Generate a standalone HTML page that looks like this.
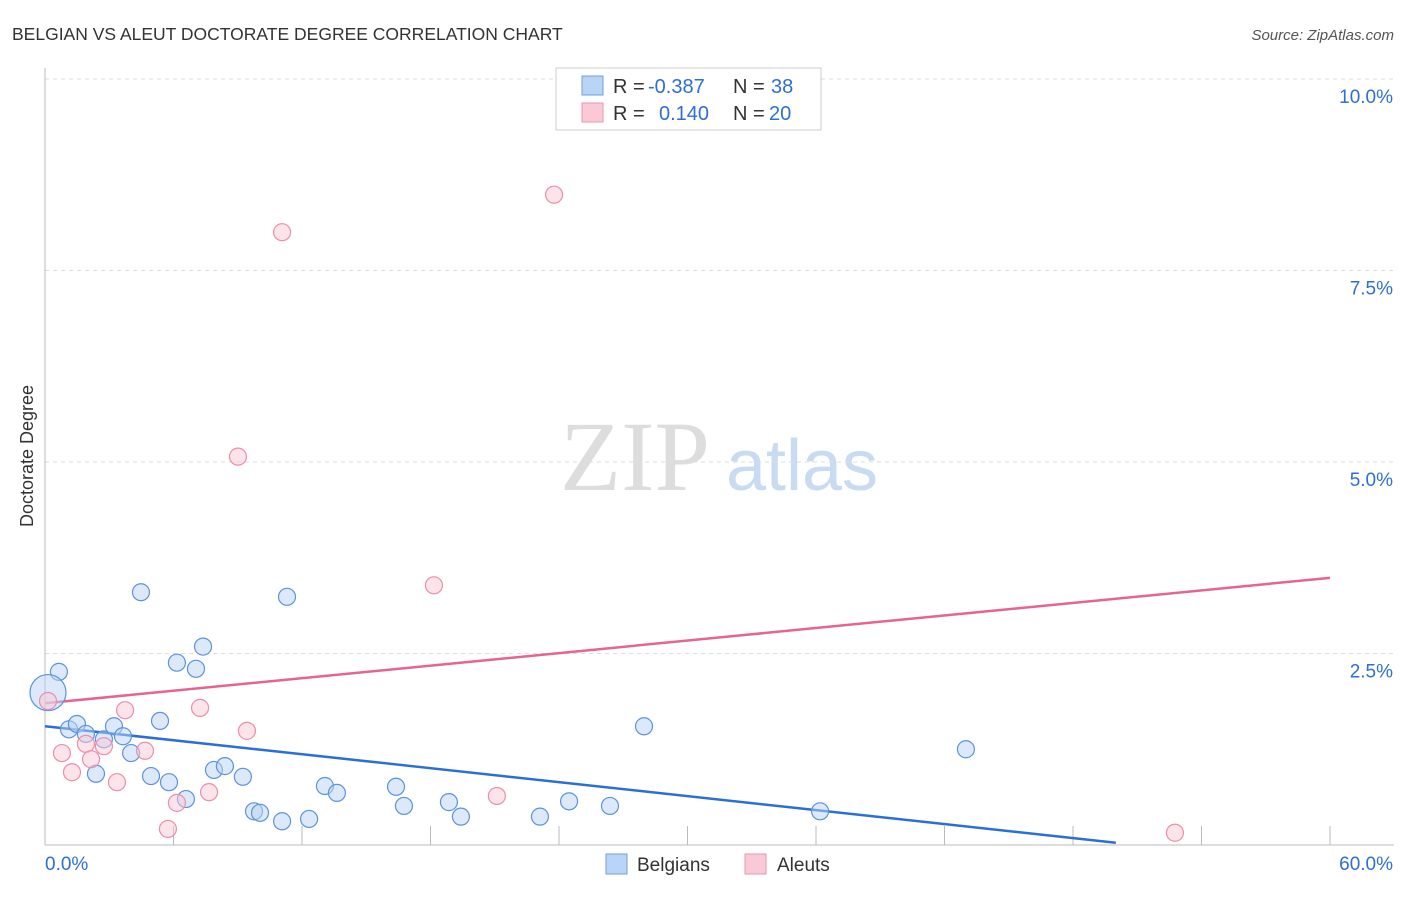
<!DOCTYPE html>
<html><head><meta charset="utf-8"><style>
body{margin:0;background:#fff;font-family:"Liberation Sans",sans-serif;}
</style></head><body>
<svg id="chart" width="1406" height="892" style="font-family:'Liberation Sans',sans-serif">
<text x="12" y="40" font-size="17.5" fill="#333">BELGIAN VS ALEUT DOCTORATE DEGREE CORRELATION CHART</text>
<text x="1394" y="40" font-size="15" fill="#555" font-style="italic" text-anchor="end">Source: ZipAtlas.com</text>
<text x="33" y="456" font-size="18" fill="#333" text-anchor="middle" transform="rotate(-90 33 456)">Doctorate Degree</text>
<g><text x="635" y="490" font-size="100" fill="#ddd" style="font-family:'Liberation Serif',serif" text-anchor="middle">ZIP</text><text x="802" y="490" font-size="72" fill="#c9dbf2" text-anchor="middle">atlas</text></g>
<g id="grid"></g><g id="axes"></g><g id="lines"></g><g id="pts"></g>
<g>
<rect x="556" y="68" width="265" height="62" fill="#fff" stroke="#ccc"/>
<rect x="582" y="76" width="21" height="19" fill="#b9d4f5" stroke="#6fa0e0"/>
<rect x="582" y="103" width="21" height="19" fill="#f9c9d6" stroke="#eb94ad"/>
<text x="613" y="93" font-size="20" fill="#333">R =</text>
<text x="648" y="93" font-size="20" fill="#2e6fd4">-0.387</text>
<text x="733" y="93" font-size="20" fill="#333">N =</text>
<text x="771" y="93" font-size="20" fill="#2e6fd4">38</text>
<text x="613" y="120" font-size="20" fill="#333">R =</text>
<text x="659" y="120" font-size="20" fill="#2e6fd4">0.140</text>
<text x="733" y="120" font-size="20" fill="#333">N =</text>
<text x="769" y="120" font-size="20" fill="#2e6fd4">20</text>
</g>
<g>
<rect x="606" y="854" width="21" height="20" fill="#b9d4f5" stroke="#6fa0e0"/>
<text x="637" y="871" font-size="19" fill="#333">Belgians</text>
<rect x="745" y="854" width="21" height="20" fill="#f9c9d6" stroke="#eb94ad"/>
<text x="777" y="871" font-size="19" fill="#333">Aleuts</text>
</g>
</svg>
<script>
const belgX=[4.48,11.30,0.65,7.38,6.16,7.05,0.14,1.12,1.49,1.91,2.75,3.22,3.64,4.02,5.37,2.38,4.95,5.79,7.89,8.40,9.24,6.58,9.76,10.04,11.07,12.33,13.07,13.63,16.39,16.76,18.86,19.42,23.11,24.47,26.38,27.97,36.19,43.00];
const belgY=[3.30,3.24,2.26,2.59,2.38,2.30,1.99,1.51,1.58,1.45,1.38,1.55,1.42,1.20,1.62,0.93,0.90,0.82,0.98,1.03,0.89,0.60,0.44,0.42,0.31,0.34,0.77,0.68,0.76,0.51,0.56,0.37,0.37,0.57,0.51,1.55,0.44,1.25];
const aleutX=[23.77,11.07,9.01,18.16,7.24,3.74,0.14,9.43,0.79,1.26,1.91,2.15,2.75,3.36,4.67,6.16,7.66,5.74,21.10,52.76];
const aleutY=[8.49,8.00,5.07,3.39,1.79,1.76,1.88,1.49,1.20,0.95,1.32,1.12,1.29,0.82,1.23,0.55,0.69,0.21,0.64,0.16];
const yTicks=[2.5,5.0,7.5,10.0];
const yTickLabels=["2.5%","5.0%","7.5%","10.0%"];
const xTickLabels=["0.0%","60.0%"];
const belgTrend=[1.55,-0.0304];
const aleutTrend=[1.85,0.0273];
const belgTrendRange=[0,50];
const aleutTrendRange=[0,60];
const NS="http://www.w3.org/2000/svg";
const X=v=>45+v/60*1285, Y=v=>845-v/10*766;
function mk(p,t,a){const e=document.createElementNS(NS,t);for(const k in a)e.setAttribute(k,a[k]);document.getElementById(p).appendChild(e);return e;}
yTicks.forEach((t,i)=>{
 const g=mk('grid','line',{x1:45,x2:1394,y1:Y(t),y2:Y(t),stroke:'#ddd','stroke-dasharray':'4,4'});
 
 
 const l=mk('axes','text',{x:1393,y:Y(t)+24,'font-size':19,fill:'#2e6fd4','text-anchor':'end'});l.textContent=yTickLabels[i];
 
 
});
const ax=mk('axes','line',{x1:45,x2:45,y1:68,y2:845,stroke:'#bbb'});


const bx=mk('axes','line',{x1:45,x2:1394,y1:845,y2:845,stroke:'#bbb'});


for(let i=1;i<=10;i++){const t=mk('axes','line',{x1:X(i*6),x2:X(i*6),y1:826,y2:845,stroke:'#bbb'});
 
 }
[[0,'start',45],[60,'end',1393]].forEach((d,i)=>{const l=mk('axes','text',{x:d[2],y:870,'font-size':19,fill:'#2e6fd4','text-anchor':d[1]});l.textContent=xTickLabels[i];
 
 });
function pts(xs,ys,fill,stroke,name){xs.forEach((x,i)=>{
 const c=mk('pts','circle',{cx:X(x),cy:Y(ys[i]),r:(name==='belgian-point'&&i===6)?18:8.5,fill:fill,'fill-opacity':0.5,stroke:stroke,'stroke-width':1.2});
 
 });}
pts(belgX,belgY,'#b9d4f5','#5b93dc','belgian-point');
pts(aleutX,aleutY,'#f9c9d6','#ea8fab','aleut-point');
const bl=mk('lines','line',{x1:X(belgTrendRange[0]),y1:Y(belgTrend[0]+belgTrend[1]*belgTrendRange[0]),x2:X(belgTrendRange[1]),y2:Y(belgTrend[0]+belgTrend[1]*belgTrendRange[1]),stroke:'#2a6fd6','stroke-width':2.5});


const al=mk('lines','line',{x1:X(aleutTrendRange[0]),y1:Y(aleutTrend[0]),x2:X(aleutTrendRange[1]),y2:Y(aleutTrend[0]+aleutTrend[1]*aleutTrendRange[1]),stroke:'#e4658f','stroke-width':2.5});


</script>
</body></html>
